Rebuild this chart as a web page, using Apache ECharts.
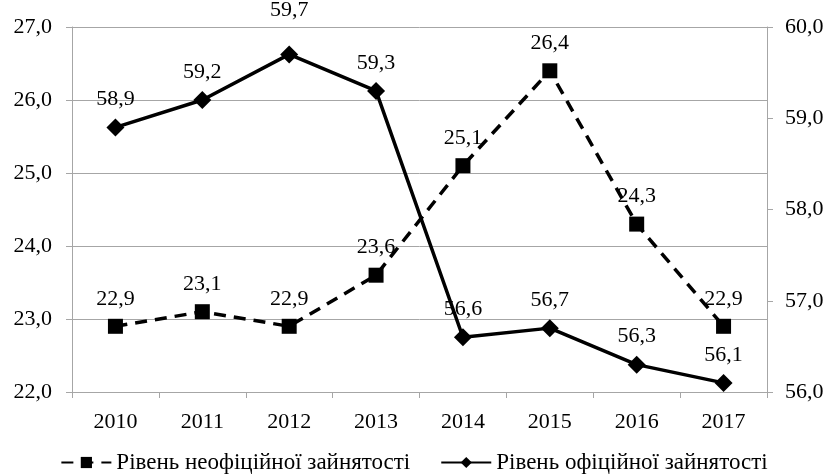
<!DOCTYPE html>
<html><head><meta charset="utf-8">
<script src="https://cdn.jsdelivr.net/npm/echarts@6/dist/echarts.min.js"></script>
<style>html,body{margin:0;padding:0;background:#fff}#c{width:828px;height:476px}</style>
</head><body><div id="c"></div>
<script>
const years = ['2010','2011','2012','2013','2014','2015','2016','2017'];
const informal = [22.9, 23.1, 22.9, 23.6, 25.1, 26.4, 24.3, 22.9];
const formal = [58.9, 59.2, 59.7, 59.3, 56.6, 56.7, 56.3, 56.1];
const informalName = 'Рівень неофіційної зайнятості';
const formalName = 'Рівень офіційної зайнятості';

const FONT = '"Liberation Serif", "Times New Roman", serif';
const FS = 22;
const fmt = v => Number(v).toFixed(1).replace('.', ',');
const axisGray = '#a6a6a6';

const formalData = formal.map((v, i) => i === 2 ? {value: v, label: {distance: 24}} : v);

const chart = echarts.init(document.getElementById('c'));
chart.setOption({
  animation: false,
  textStyle: {fontFamily: FONT, color: '#000'},
  grid: {left: 72, right: 61, top: 27, bottom: 84},
  legend: {
    top: 446, left: 'center', itemWidth: 50, itemHeight: 14, itemGap: 30,
    textStyle: {fontFamily: FONT, fontSize: 23, color: '#000'},
    data: [informalName, formalName]
  },
  xAxis: {
    type: 'category', data: years, boundaryGap: true,
    axisLine: {lineStyle: {color: axisGray, width: 1}},
    axisTick: {show: true, length: 6, lineStyle: {color: axisGray}},
    axisLabel: {fontFamily: FONT, fontSize: FS, color: '#000', margin: 19}
  },
  yAxis: [{
    type: 'value', min: 22, max: 27, interval: 1,
    axisLine: {show: true, lineStyle: {color: axisGray}},
    axisTick: {show: true, length: 6, lineStyle: {color: axisGray}},
    splitLine: {show: true, lineStyle: {color: axisGray, width: 1}},
    axisLabel: {formatter: fmt, fontFamily: FONT, fontSize: FS, color: '#000', margin: 20}
  }, {
    type: 'value', min: 56, max: 60, interval: 1, position: 'right',
    axisLine: {show: true, lineStyle: {color: axisGray}},
    axisTick: {show: true, length: 6, lineStyle: {color: axisGray}},
    splitLine: {show: false},
    axisLabel: {formatter: fmt, fontFamily: FONT, fontSize: FS, color: '#000', margin: 18}
  }],
  series: [{
    name: informalName, type: 'line', yAxisIndex: 0, data: informal,
    symbol: 'rect', symbolSize: 15,
    itemStyle: {color: '#000'},
    lineStyle: {color: '#000', width: 3.5, type: [12, 8]},
    label: {show: true, position: 'top', distance: 9, formatter: p => fmt(p.value),
      fontFamily: FONT, fontSize: FS, color: '#000'}
  }, {
    name: formalName, type: 'line', yAxisIndex: 1, data: formalData,
    symbol: 'diamond', symbolSize: 18,
    itemStyle: {color: '#000'},
    lineStyle: {color: '#000', width: 3.5},
    label: {show: true, position: 'top', distance: 8, formatter: p => fmt(p.value),
      fontFamily: FONT, fontSize: FS, color: '#000'}
  }]
});
</script></body></html>
